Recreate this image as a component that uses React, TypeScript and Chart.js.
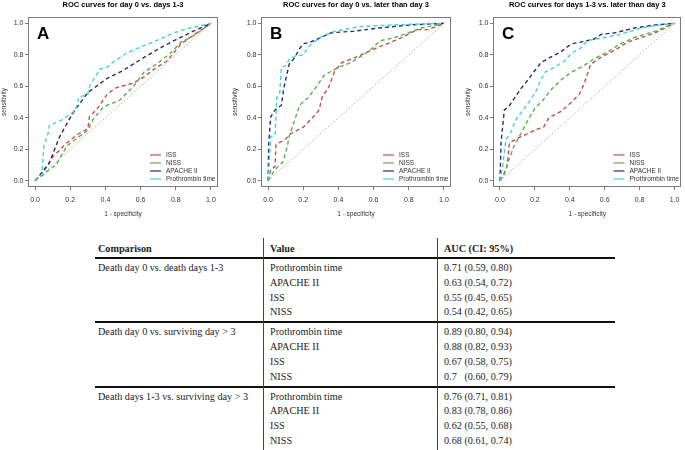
import React, { useEffect, useRef } from 'react';
import { Chart, registerables } from 'chart.js';

Chart.register(...registerables);

// ---------- data ----------
const SERIES_LABELS = ['ISS', 'NISS', 'APACHE II', 'Prothrombin time'];
const SERIES_COLORS = ['#c4504f', '#5aaf48', '#2a2e6e', '#45d2e0'];
const AXIS_TICKS = [0, 0.2, 0.4, 0.6, 0.8, 1.0];
const PANEL_TITLES = [
  'ROC curves for day 0 vs. days 1-3',
  'ROC curves for day 0 vs. later than day 3',
  'ROC curves for days 1-3 vs. later than day 3',
];
const PANEL_LETTERS = ['A', 'B', 'C'];
const REFERENCE_LINE: [number, number][] = [[0, 0], [1, 1]];

// [1 - specificity, sensitivity]
const A_ISS: [number, number][] = [[0,0],[0.05,0.06],[0.10,0.15],[0.18,0.24],[0.25,0.30],[0.30,0.33],[0.31,0.41],[0.35,0.45],[0.41,0.55],[0.46,0.59],[0.56,0.62],[0.62,0.66],[0.69,0.72],[0.75,0.76],[0.83,0.87],[0.92,0.94],[1,1]];
const A_NISS: [number, number][] = [[0,0],[0.05,0.04],[0.08,0.07],[0.12,0.10],[0.18,0.22],[0.25,0.28],[0.30,0.32],[0.33,0.39],[0.39,0.47],[0.48,0.51],[0.56,0.60],[0.62,0.69],[0.69,0.74],[0.77,0.81],[0.83,0.88],[0.90,0.92],[1,1]];
const A_APACHE: [number, number][] = [[0,0],[0.03,0.04],[0.08,0.11],[0.14,0.28],[0.18,0.36],[0.21,0.42],[0.24,0.47],[0.30,0.56],[0.41,0.65],[0.50,0.70],[0.60,0.77],[0.69,0.83],[0.79,0.89],[0.90,0.95],[1,1]];
const A_PT: [number, number][] = [[0,0],[0.04,0.04],[0.05,0.22],[0.08,0.32],[0.08,0.35],[0.15,0.385],[0.21,0.43],[0.23,0.45],[0.25,0.53],[0.30,0.55],[0.31,0.60],[0.37,0.71],[0.41,0.72],[0.44,0.75],[0.52,0.81],[0.60,0.85],[0.69,0.89],[0.79,0.94],[0.88,0.97],[1,1]];

const B_ISS: [number, number][] = [[0,0],[0.015,0.07],[0.04,0.09],[0.045,0.23],[0.095,0.26],[0.13,0.30],[0.20,0.34],[0.27,0.42],[0.29,0.45],[0.31,0.54],[0.34,0.58],[0.38,0.70],[0.42,0.75],[0.49,0.78],[0.61,0.84],[0.70,0.88],[0.76,0.91],[0.85,0.96],[0.91,0.96],[1,1]];
const B_NISS: [number, number][] = [[0,0],[0.04,0.07],[0.085,0.12],[0.11,0.22],[0.12,0.28],[0.15,0.38],[0.18,0.48],[0.23,0.53],[0.27,0.59],[0.32,0.67],[0.40,0.72],[0.47,0.75],[0.57,0.82],[0.64,0.89],[0.72,0.91],[0.80,0.94],[0.87,0.97],[1,1]];
const B_APACHE: [number, number][] = [[0,0],[0.004,0.24],[0.015,0.405],[0.04,0.45],[0.076,0.48],[0.09,0.59],[0.12,0.74],[0.15,0.78],[0.18,0.84],[0.20,0.87],[0.24,0.88],[0.30,0.91],[0.36,0.94],[0.49,0.95],[0.63,0.97],[0.81,0.99],[1,1]];
const B_PT: [number, number][] = [[0,0],[0.006,0.09],[0.015,0.28],[0.04,0.29],[0.05,0.53],[0.066,0.55],[0.076,0.72],[0.10,0.73],[0.12,0.77],[0.15,0.79],[0.20,0.80],[0.23,0.85],[0.26,0.88],[0.31,0.92],[0.38,0.95],[0.53,0.98],[0.72,0.99],[1,1]];

const C_ISS: [number, number][] = [[0,0],[0.025,0.05],[0.04,0.09],[0.054,0.24],[0.10,0.27],[0.16,0.30],[0.22,0.33],[0.25,0.34],[0.28,0.40],[0.35,0.44],[0.41,0.50],[0.455,0.55],[0.48,0.61],[0.52,0.74],[0.58,0.785],[0.66,0.83],[0.73,0.88],[0.81,0.91],[0.89,0.94],[1,1]];
const C_NISS: [number, number][] = [[0,0],[0.025,0.04],[0.05,0.13],[0.08,0.22],[0.12,0.30],[0.16,0.385],[0.20,0.46],[0.245,0.51],[0.29,0.575],[0.35,0.64],[0.41,0.69],[0.48,0.73],[0.54,0.775],[0.62,0.82],[0.69,0.87],[0.77,0.91],[0.89,0.95],[1,1]];
const C_APACHE: [number, number][] = [[0,0],[0.006,0.24],[0.025,0.45],[0.05,0.47],[0.08,0.52],[0.12,0.585],[0.16,0.64],[0.20,0.70],[0.235,0.75],[0.29,0.785],[0.35,0.82],[0.41,0.87],[0.46,0.88],[0.54,0.90],[0.58,0.93],[0.66,0.94],[0.77,0.97],[0.89,0.99],[1,1]];
const C_PT: [number, number][] = [[0,0],[0.015,0.09],[0.034,0.26],[0.063,0.31],[0.09,0.385],[0.12,0.43],[0.16,0.49],[0.21,0.575],[0.23,0.63],[0.26,0.69],[0.31,0.72],[0.37,0.76],[0.41,0.81],[0.46,0.84],[0.50,0.89],[0.60,0.91],[0.69,0.93],[0.81,0.97],[0.89,0.985],[1,1]];

const PANEL_SERIES = [
  [A_ISS, A_NISS, A_APACHE, A_PT],
  [B_ISS, B_NISS, B_APACHE, B_PT],
  [C_ISS, C_NISS, C_APACHE, C_PT],
];

// table
const TABLE_HEADERS = ['Comparison', 'Value', 'AUC (CI: 95%)'];
const COMPARISONS = [
  'Death day 0 vs. death days 1-3',
  'Death day 0 vs. surviving day > 3',
  'Death days 1-3 vs. surviving day > 3',
];
const PREDICTORS = ['Prothrombin time', 'APACHE II', 'ISS', 'NISS'];
const AUC_DAY0_VS_1TO3 = ['0.71 (0.59, 0.80)', '0.63 (0.54, 0.72)', '0.55 (0.45, 0.65)', '0.54 (0.42, 0.65)'];
const AUC_DAY0_VS_SURV = ['0.89 (0.80, 0.94)', '0.88 (0.82, 0.93)', '0.67 (0.58, 0.75)', '0.7   (0.60, 0.79)'];
const AUC_1TO3_VS_SURV = ['0.76 (0.71, 0.81)', '0.83 (0.78, 0.86)', '0.62 (0.55, 0.68)', '0.68 (0.61, 0.74)'];
const AUC_GROUPS = [AUC_DAY0_VS_1TO3, AUC_DAY0_VS_SURV, AUC_1TO3_VS_SURV];

// ---------- layout (not data) ----------
const PANEL_LAYOUT = [
  { left: 0, width: 228, boxLeft: 28, padRight: 10, yTitlePad: 0 },
  { left: 228, width: 228, boxLeft: 33, padRight: 5, yTitlePad: 3 },
  { left: 456, width: 229, boxLeft: 37, padRight: 2, yTitlePad: 8 },
];
const PANEL_H = 225;
const SANS = '"Liberation Sans", Arial, sans-serif';
const SERIF = '"Liberation Serif", "Times New Roman", serif';

const panelDecor = {
  id: 'panelDecor',
  afterDraw(chart: any, _args: any, opts: any) {
    const { ctx, chartArea } = chart;
    const { left, top, right, bottom } = chartArea;
    ctx.save();
    ctx.strokeStyle = '#7a7a7a';
    ctx.lineWidth = 1;
    ctx.strokeRect(Math.round(left) + 0.5, Math.round(top) + 0.5, Math.round(right - left) - 1, Math.round(bottom - top) - 1);
    ctx.fillStyle = '#000';
    ctx.font = `bold 17px ${SANS}`;
    ctx.textBaseline = 'alphabetic';
    ctx.textAlign = 'left';
    ctx.fillText(opts.letter, left + 9, top + 21.5);
    const series = chart.data.datasets.filter((d: any) => !d.isRef);
    ctx.font = `6.5px ${SANS}`;
    ctx.textBaseline = 'middle';
    series.forEach((ds: any, i: number) => {
      const y = bottom - 32 + i * 8;
      ctx.strokeStyle = ds.borderColor;
      ctx.lineWidth = 1.2;
      ctx.setLineDash([]);
      ctx.beginPath();
      ctx.moveTo(right - 68, y);
      ctx.lineTo(right - 57, y);
      ctx.stroke();
      ctx.fillStyle = '#333';
      ctx.fillText(ds.label, right - 52, y + 0.5);
    });
    ctx.restore();
  },
};

function RocPanel({ index }: { index: number }) {
  const ref = useRef<HTMLCanvasElement>(null);
  const lay = PANEL_LAYOUT[index];
  useEffect(() => {
    if (!ref.current) return;
    const toPts = (arr: [number, number][]) => arr.map(([x, y]) => ({ x, y }));
    const datasets: any[] = PANEL_SERIES[index].map((pts, i) => ({
      label: SERIES_LABELS[i],
      data: toPts(pts),
      borderColor: SERIES_COLORS[i],
      borderWidth: 1.4,
      borderDash: [4, 3],
      pointRadius: 0,
      tension: 0,
      fill: false,
      order: 3 - i,
    }));
    datasets.push({
      label: 'reference',
      isRef: true,
      data: toPts(REFERENCE_LINE),
      borderColor: '#9a9a9a',
      borderWidth: 0.8,
      borderDash: [1.5, 2],
      pointRadius: 0,
      fill: false,
      order: 10,
    });
    const axisCommon = (title: string, isY: boolean) => ({
      type: 'linear' as const,
      min: -0.04,
      max: 1.04,
      afterBuildTicks: (scale: any) => {
        scale.ticks = AXIS_TICKS.map((v) => ({ value: v }));
      },
      grid: {
        display: true,
        drawOnChartArea: false,
        drawTicks: true,
        tickLength: 3,
        color: '#777',
        lineWidth: 1,
      },
      border: { display: false },
      ticks: {
        autoSkip: false,
        maxRotation: 0,
        padding: isY ? 1.5 : 5.5,
        color: '#333',
        font: { family: SANS, size: 7 },
        callback: (v: any) => Number(v).toFixed(1),
      },
      title: {
        display: true,
        text: title,
        color: '#333',
        font: { family: SANS, size: 6.5 },
        padding: isY ? { top: lay.yTitlePad, bottom: 0 } : { top: 0, bottom: 6.5 },
      },
    });
    const chart = new Chart(ref.current, {
      type: 'line',
      data: { datasets },
      options: {
        animation: false,
        responsive: false,
        maintainAspectRatio: false,
        events: [],
        layout: { padding: { top: 0, right: lay.padRight, bottom: 0, left: 0 } },
        scales: {
          x: {
            ...axisCommon('1 - specificity', false),
            afterFit: (scale: any) => {
              scale.height = PANEL_H - 187;
            },
          },
          y: {
            ...axisCommon('sensitivity', true),
            afterFit: (scale: any) => {
              scale.width = lay.boxLeft;
            },
          },
        },
        plugins: {
          legend: { display: false },
          tooltip: { enabled: false },
          title: {
            display: true,
            text: PANEL_TITLES[index],
            color: '#000',
            fullSize: false,
            font: { family: SANS, size: 7.5, weight: 'bold' },
            padding: { top: 0.5, bottom: 7.5 },
          },
          panelDecor: { letter: PANEL_LETTERS[index] },
        } as any,
      },
      plugins: [panelDecor],
    });
    return () => chart.destroy();
  }, [index]);
  return (
    <canvas
      ref={ref}
      width={lay.width}
      height={PANEL_H}
      style={{ position: 'absolute', left: lay.left, top: 0, width: lay.width, height: PANEL_H }}
    />
  );
}

// table geometry
const COL_X = [98, 270, 444];
const VLINE_X = [263, 437];
const RULE_LEFT = 95;
const RULE_WIDTH = 520;
const HEADER_Y = 249;
const RULE_Y = [258.3, 322.4, 386.6];
const ROW_OFFSET = 10;
const ROW_STEP = 14.7;

function Txt({ x, y, text, bold }: { x: number; y: number; text: string; bold?: boolean }) {
  return (
    <div
      style={{
        position: 'absolute',
        left: x,
        top: y - 6,
        height: 12,
        lineHeight: '12px',
        fontFamily: SERIF,
        fontSize: 10.2,
        fontWeight: bold ? 'bold' : 'normal',
        color: '#222',
        whiteSpace: 'pre',
      }}
    >
      {text}
    </div>
  );
}

function AucTable() {
  const items: React.ReactNode[] = [];
  TABLE_HEADERS.forEach((h, i) => items.push(<Txt key={'h' + i} x={COL_X[i]} y={HEADER_Y} text={h} bold />));
  COMPARISONS.forEach((c, g) => {
    const base = RULE_Y[g] + ROW_OFFSET;
    items.push(<Txt key={'c' + g} x={COL_X[0]} y={base} text={c} />);
    PREDICTORS.forEach((p, r) => {
      const y = base + r * ROW_STEP;
      items.push(<Txt key={`p${g}${r}`} x={COL_X[1]} y={y} text={p} />);
      items.push(<Txt key={`a${g}${r}`} x={COL_X[2]} y={y} text={AUC_GROUPS[g][r]} />);
    });
  });
  RULE_Y.forEach((y, i) =>
    items.push(
      <div key={'r' + i} style={{ position: 'absolute', left: RULE_LEFT, width: RULE_WIDTH, top: y - 1, height: 2, background: '#111' }} />
    )
  );
  VLINE_X.forEach((x, i) =>
    items.push(
      <div key={'v' + i} style={{ position: 'absolute', left: x, width: 1, top: 238, height: 212, background: '#444' }} />
    )
  );
  return <>{items}</>;
}

export default function App() {
  return (
    <div style={{ position: 'absolute', left: 0, top: 0, width: 685, height: 450, background: '#fff', overflow: 'hidden' }}>
      <RocPanel index={0} />
      <RocPanel index={1} />
      <RocPanel index={2} />
      <AucTable />
    </div>
  );
}
